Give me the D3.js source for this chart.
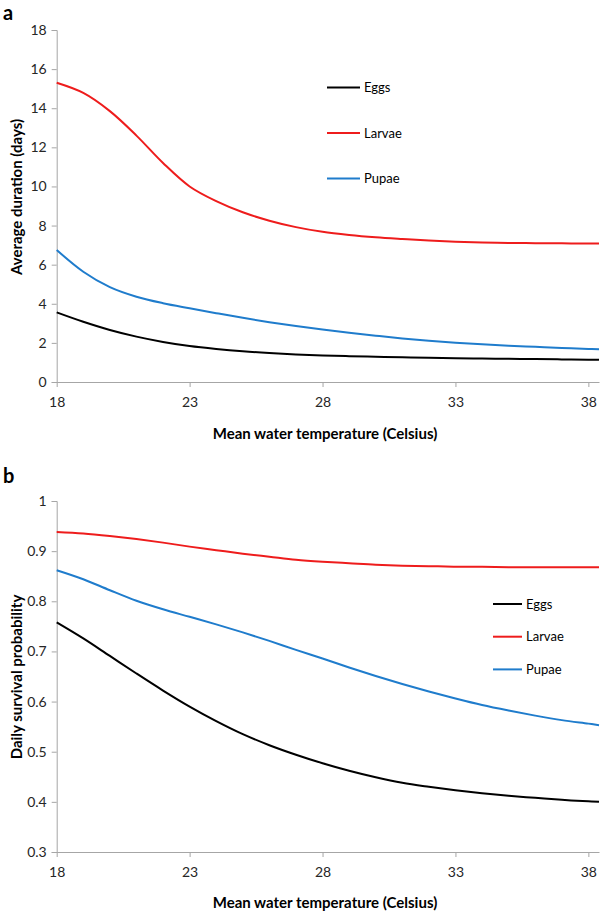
<!DOCTYPE html>
<html>
<head>
<meta charset="utf-8">
<script src="https://cdn.jsdelivr.net/npm/d3@7"></script>
<style>
  html, body { margin: 0; padding: 0; background: #fff; }
  svg { display: block; }
  text { font-family: Lato, "Open Sans", "Liberation Sans", sans-serif; }
</style>
</head>
<body>
<svg id="chart" width="600" height="912"></svg>
<script>
// ---- Data ----
const temps = [18,19,20,21,22,23,24,25,26,27,28,29,30,31,32,33,34,35,36,37,38,38.4];
const seriesNames = ["Eggs", "Larvae", "Pupae"];
const seriesColors = ["#000000", "#ee1c1c", "#1f7ccc"];

// Panel a: average duration (days)
const durEggs   = [3.56,3.08,2.66,2.32,2.05,1.84,1.69,1.57,1.48,1.41,1.36,1.32,1.29,1.26,1.235,1.215,1.20,1.185,1.17,1.155,1.14,1.135];
const durLarvae = [15.30,14.78,13.85,12.60,11.20,10.00,9.25,8.68,8.25,7.92,7.68,7.52,7.40,7.31,7.23,7.17,7.13,7.11,7.10,7.09,7.08,7.08];
const durPupae  = [6.75,5.64,4.85,4.36,4.03,3.77,3.52,3.28,3.06,2.86,2.68,2.52,2.37,2.23,2.11,2.01,1.93,1.86,1.80,1.74,1.69,1.67];

// Panel b: daily survival probability
const survEggs   = [0.758,0.726,0.691,0.656,0.622,0.590,0.561,0.535,0.513,0.494,0.477,0.462,0.449,0.438,0.430,0.423,0.417,0.412,0.408,0.404,0.401,0.400];
const survLarvae = [0.938,0.935,0.930,0.924,0.917,0.909,0.902,0.895,0.889,0.883,0.879,0.876,0.873,0.871,0.870,0.869,0.869,0.868,0.868,0.868,0.868,0.868];
const survPupae  = [0.862,0.844,0.822,0.801,0.784,0.769,0.754,0.738,0.721,0.703,0.686,0.668,0.651,0.635,0.620,0.606,0.593,0.582,0.572,0.563,0.556,0.553];

const xTicks = [18,23,28,33,38];
const yTicksA = [0,2,4,6,8,10,12,14,16,18];
const yTicksB = [0.3,0.4,0.5,0.6,0.7,0.8,0.9,1];

const xTitle = "Mean water temperature (Celsius)";
const yTitleA = "Average duration (days)";
const yTitleB = "Daily survival probability";

// ---- Drawing ----
const svg = d3.select("#chart");
const axisColor = "#a6a6a6";
const tickTextColor = "#262626";

const x = d3.scaleLinear().domain([18, 38.4]).range([56.7, 599]);

function panel(opts) {
  const g = svg.append("g");
  const y = d3.scaleLinear().domain(opts.yDomain).range(opts.yRange);

  // Y axis
  const yAxis = d3.axisLeft(y).tickValues(opts.yTicks).tickSize(5).tickPadding(5)
    .tickFormat(opts.yFormat);
  const gy = g.append("g").attr("transform", `translate(${x.range()[0]},0)`).call(yAxis);
  gy.select(".domain").attr("stroke", axisColor);
  gy.selectAll(".tick line").attr("stroke", axisColor);
  gy.selectAll(".tick text").attr("fill", tickTextColor).style("font-size", "14px")
    .style("font-family", "Lato, sans-serif");

  // X axis
  const xAxis = d3.axisBottom(x).tickValues(xTicks).tickSize(5).tickPadding(10)
    .tickSizeOuter(0).tickFormat(d3.format("d"));
  const gx = g.append("g").attr("transform", `translate(0,${opts.yRange[0]})`).call(xAxis);
  gx.select(".domain").attr("stroke", axisColor);
  gx.selectAll(".tick line").attr("stroke", axisColor);
  gx.selectAll(".tick text").attr("fill", tickTextColor).style("font-size", "14px")
    .style("font-family", "Lato, sans-serif");

  // Lines
  const line = d3.line().x((d, i) => x(temps[i])).y(d => y(d)).curve(d3.curveCatmullRom.alpha(0.5));
  opts.series.forEach((s, k) => {
    g.append("path").datum(s).attr("d", line)
      .attr("fill", "none").attr("stroke", seriesColors[k]).attr("stroke-width", 2);
  });

  // Titles
  g.append("text").attr("x", 325).attr("y", opts.xTitleY).attr("text-anchor", "middle")
    .style("font-size", "15px").style("font-weight", "bold").attr("fill", "#000").text(xTitle);
  g.append("text").attr("transform", `translate(22,${opts.yTitleY}) rotate(-90)`)
    .attr("text-anchor", "middle").style("font-size", "15px").style("font-weight", "bold")
    .attr("fill", "#000").text(opts.yTitle);

  // Panel letter
  g.append("text").attr("x", 3).attr("y", opts.letterY).style("font-size", "20px")
    .style("font-weight", "bold").attr("fill", "#000").text(opts.letter);

  // Legend
  seriesNames.forEach((name, k) => {
    const ly = opts.legend.y0 + k * opts.legend.dy;
    g.append("line").attr("x1", opts.legend.x0).attr("x2", opts.legend.x0 + opts.legend.len)
      .attr("y1", ly).attr("y2", ly).attr("stroke", seriesColors[k]).attr("stroke-width", 2);
    g.append("text").attr("x", opts.legend.x0 + opts.legend.len + 4).attr("y", ly + 4.5)
      .style("font-size", "13px").attr("fill", "#000").text(name);
  });
}

panel({
  yDomain: [0, 18], yRange: [382, 30], yTicks: yTicksA, yFormat: d3.format("d"),
  series: [durEggs, durLarvae, durPupae],
  xTitleY: 439, yTitle: yTitleA, yTitleY: 197, letter: "a", letterY: 20,
  legend: { x0: 327, len: 33, y0: 87.5, dy: 45.5 }
});

panel({
  yDomain: [0.3, 1], yRange: [852, 501], yTicks: yTicksB, yFormat: d => (d === 1 ? "1" : d3.format(".1f")(d)),
  series: [survEggs, survLarvae, survPupae],
  xTitleY: 908, yTitle: yTitleB, yTitleY: 677, letter: "b", letterY: 483,
  legend: { x0: 493, len: 29, y0: 604, dy: 32.7 }
});
</script>
</body>
</html>
